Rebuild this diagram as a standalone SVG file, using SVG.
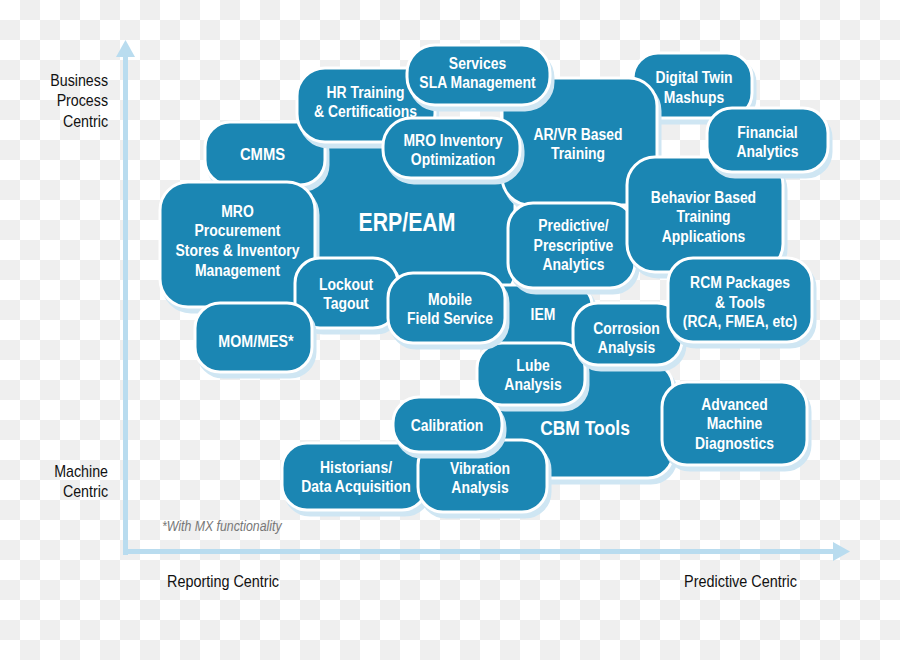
<svg xmlns="http://www.w3.org/2000/svg" width="900" height="660" viewBox="0 0 900 660">
<defs>
<pattern id="chk" width="40" height="40" patternUnits="userSpaceOnUse">
<rect width="40" height="40" fill="#ffffff"/>
<rect x="20" y="0" width="20" height="20" fill="#efefef"/>
<rect x="0" y="20" width="20" height="20" fill="#efefef"/>
</pattern>
<style>
.box{fill:#1b86b3;stroke:#ffffff;stroke-width:3}
.sh{fill:#cfe6f3;stroke:#cfe6f3;stroke-width:3}
.t{font-family:"Liberation Sans",Arial,sans-serif;font-weight:bold;font-size:17px;fill:#ffffff;text-anchor:middle}
.big{font-size:25px}
.cbm{font-size:21px}
.ax{font-family:"Liberation Sans",Arial,sans-serif;font-size:16px;fill:#111111}
.note{font-family:"Liberation Sans",Arial,sans-serif;font-style:italic;font-size:14px;fill:#777777}
.axis{fill:#b9dcef}
</style>
</defs>
<rect x="0" y="0" width="900" height="660" fill="url(#chk)"/>

<g id="axes">
<rect class="axis" x="123" y="54" width="5" height="501"/>
<polygon class="axis" points="116,57 125.5,40 135,57"/>
<rect class="axis" x="123" y="549" width="712" height="5"/>
<polygon class="axis" points="833,542 850,551.5 833,561"/>
</g>

<g id="axis-labels">
<g transform="translate(108 0) scale(0.89 1)">
<text class="ax" x="0" y="86" text-anchor="end">Business</text>
<text class="ax" x="0" y="106.5" text-anchor="end">Process</text>
<text class="ax" x="0" y="127" text-anchor="end">Centric</text>
<text class="ax" x="0" y="477" text-anchor="end">Machine</text>
<text class="ax" x="0" y="497.5" text-anchor="end">Centric</text>
</g>
<g transform="translate(223 0) scale(0.9 1)"><text class="ax" x="0" y="587" text-anchor="middle">Reporting Centric</text></g>
<g transform="translate(740.5 0) scale(0.9 1)"><text class="ax" x="0" y="587" text-anchor="middle">Predictive Centric</text></g>
<g transform="translate(162 0) scale(0.88 1)"><text class="note" x="0" y="531">*With MX functionality</text></g>
</g>

<g id="connectors"></g>

<g id="erp-eam">
<rect class="sh" x="293" y="130" width="225" height="173" rx="26"/>
<rect class="box" x="290" y="125" width="225" height="173" rx="26"/>
<g transform="translate(407 0) scale(0.85 1)"><text class="t big" x="0" y="231.5">ERP/EAM</text></g>
</g>

<g id="iem">
<rect class="sh" x="473" y="289" width="122" height="62" rx="20"/>
<rect class="box" x="470" y="285" width="122" height="62" rx="20"/>
<g transform="translate(543 0) scale(0.82 1)"><text class="t" x="0" y="320">IEM</text></g>
</g>

<g id="cbm-tools">
<rect class="sh" x="495" y="367" width="181" height="116" rx="25"/>
<rect class="box" x="492" y="362" width="181" height="116" rx="25"/>
<g transform="translate(585 0) scale(0.83 1)"><text class="t cbm" x="0" y="435">CBM Tools</text></g>
</g>

<g id="digital-twin">
<rect class="sh" x="636" y="58" width="119" height="65" rx="25"/>
<rect class="box" x="633" y="53" width="119" height="65" rx="25"/>
<g transform="translate(694 0) scale(0.82 1)">
<text class="t" x="0" y="83.5">Digital Twin</text>
<text class="t" x="0" y="103.5">Mashups</text>
</g>
</g>

<g id="cmms">
<rect class="sh" x="208" y="127" width="120" height="63" rx="25"/>
<rect class="box" x="205" y="122" width="120" height="63" rx="25"/>
<g transform="translate(262.5 0) scale(0.87 1)"><text class="t" x="0" y="160">CMMS</text></g>
</g>

<g id="hr-training">
<rect class="sh" x="300" y="73" width="138" height="74" rx="28"/>
<rect class="box" x="297" y="68" width="138" height="74" rx="28"/>
<g transform="translate(365.5 0) scale(0.82 1)">
<text class="t" x="0" y="98.5">HR Training</text>
<text class="t" x="0" y="117.5">&amp; Certifications</text>
</g>
</g>

<g id="ar-vr">
<rect class="sh" x="505" y="83" width="155" height="127" rx="28"/>
<rect class="box" x="502" y="78" width="155" height="127" rx="28"/>
<g transform="translate(578 0) scale(0.82 1)">
<text class="t" x="0" y="140">AR/VR Based</text>
<text class="t" x="0" y="159.5">Training</text>
</g>
</g>

<g id="services-sla">
<rect class="sh" x="410" y="50" width="143" height="60" rx="28"/>
<rect class="box" x="407" y="45" width="143" height="60" rx="28"/>
<g transform="translate(477.5 0) scale(0.82 1)">
<text class="t" x="0" y="69.5">Services</text>
<text class="t" x="0" y="88.5">SLA Management</text>
</g>
</g>

<g id="mro-inventory">
<rect class="sh" x="386" y="123" width="137" height="60" rx="28"/>
<rect class="box" x="383" y="118" width="137" height="60" rx="28"/>
<g transform="translate(453 0) scale(0.82 1)">
<text class="t" x="0" y="146">MRO Inventory</text>
<text class="t" x="0" y="165">Optimization</text>
</g>
</g>

<g id="predictive">
<rect class="sh" x="511" y="208" width="127" height="85" rx="25"/>
<rect class="box" x="508" y="203" width="127" height="85" rx="25"/>
<g transform="translate(573.5 0) scale(0.82 1)">
<text class="t" x="0" y="231.5">Predictive/</text>
<text class="t" x="0" y="251">Prescriptive</text>
<text class="t" x="0" y="270">Analytics</text>
</g>
</g>

<g id="behavior-training">
<rect class="sh" x="630" y="162" width="156" height="115" rx="28"/>
<rect class="box" x="627" y="157" width="156" height="115" rx="28"/>
<g transform="translate(703.5 0) scale(0.82 1)">
<text class="t" x="0" y="203">Behavior Based</text>
<text class="t" x="0" y="222.5">Training</text>
<text class="t" x="0" y="242">Applications</text>
</g>
</g>

<g id="financial">
<rect class="sh" x="710" y="113" width="121" height="64" rx="25"/>
<rect class="box" x="707" y="108" width="121" height="64" rx="25"/>
<g transform="translate(767.5 0) scale(0.82 1)">
<text class="t" x="0" y="138.5">Financial</text>
<text class="t" x="0" y="157.5">Analytics</text>
</g>
</g>

<g id="lube">
<rect class="sh" x="480" y="348" width="108" height="62" rx="25"/>
<rect class="box" x="477" y="343" width="108" height="62" rx="25"/>
<g transform="translate(533 0) scale(0.82 1)">
<text class="t" x="0" y="371">Lube</text>
<text class="t" x="0" y="390">Analysis</text>
</g>
</g>

<g id="corrosion">
<rect class="sh" x="576" y="308" width="109" height="62" rx="25"/>
<rect class="box" x="573" y="303" width="109" height="62" rx="25"/>
<g transform="translate(626.5 0) scale(0.82 1)">
<text class="t" x="0" y="334">Corrosion</text>
<text class="t" x="0" y="353.5">Analysis</text>
</g>
</g>

<g id="rcm">
<rect class="sh" x="671" y="263" width="144" height="84" rx="25"/>
<rect class="box" x="668" y="258" width="144" height="84" rx="25"/>
<g transform="translate(740 0) scale(0.82 1)">
<text class="t" x="0" y="288.5">RCM Packages</text>
<text class="t" x="0" y="308.5">&amp; Tools</text>
<text class="t" x="0" y="327.5">(RCA, FMEA, etc)</text>
</g>
</g>

<g id="mro-procurement">
<rect class="sh" x="163" y="187" width="155" height="125" rx="28"/>
<rect class="box" x="160" y="182" width="155" height="125" rx="28"/>
<g transform="translate(237.5 0) scale(0.82 1)">
<text class="t" x="0" y="217">MRO</text>
<text class="t" x="0" y="236.5">Procurement</text>
<text class="t" x="0" y="256.5">Stores &amp; Inventory</text>
<text class="t" x="0" y="276">Management</text>
</g>
</g>

<g id="lockout">
<rect class="sh" x="298" y="263" width="103" height="70" rx="25"/>
<rect class="box" x="295" y="258" width="103" height="70" rx="25"/>
<g transform="translate(346 0) scale(0.82 1)">
<text class="t" x="0" y="290">Lockout</text>
<text class="t" x="0" y="309.5">Tagout</text>
</g>
</g>

<g id="mom-mes">
<rect class="sh" x="198" y="308" width="117" height="69" rx="25"/>
<rect class="box" x="195" y="303" width="117" height="69" rx="25"/>
<g transform="translate(256 0) scale(0.84 1)"><text class="t" x="0" y="347">MOM/MES*</text></g>
</g>

<g id="mobile-field">
<rect class="sh" x="391" y="278" width="117" height="70" rx="25"/>
<rect class="box" x="388" y="273" width="117" height="70" rx="25"/>
<g transform="translate(450 0) scale(0.82 1)">
<text class="t" x="0" y="305">Mobile</text>
<text class="t" x="0" y="324">Field Service</text>
</g>
</g>

<g id="historians">
<rect class="sh" x="285" y="448" width="145" height="67" rx="25"/>
<rect class="box" x="282" y="443" width="145" height="67" rx="25"/>
<g transform="translate(356 0) scale(0.82 1)">
<text class="t" x="0" y="473">Historians/</text>
<text class="t" x="0" y="492.5">Data Acquisition</text>
</g>
</g>

<g id="vibration">
<rect class="sh" x="421" y="445" width="129" height="72" rx="25"/>
<rect class="box" x="418" y="440" width="129" height="72" rx="25"/>
<g transform="translate(480 0) scale(0.82 1)">
<text class="t" x="0" y="474">Vibration</text>
<text class="t" x="0" y="493.5">Analysis</text>
</g>
</g>

<g id="calibration">
<rect class="sh" x="396" y="402" width="109" height="55" rx="26"/>
<rect class="box" x="393" y="397" width="109" height="55" rx="26"/>
<g transform="translate(447 0) scale(0.82 1)"><text class="t" x="0" y="431">Calibration</text></g>
</g>

<g id="advanced-diagnostics">
<rect class="sh" x="665" y="387" width="145" height="83" rx="25"/>
<rect class="box" x="662" y="382" width="145" height="83" rx="25"/>
<g transform="translate(734.5 0) scale(0.82 1)">
<text class="t" x="0" y="410">Advanced</text>
<text class="t" x="0" y="429.5">Machine</text>
<text class="t" x="0" y="449">Diagnostics</text>
</g>
</g>
</svg>
